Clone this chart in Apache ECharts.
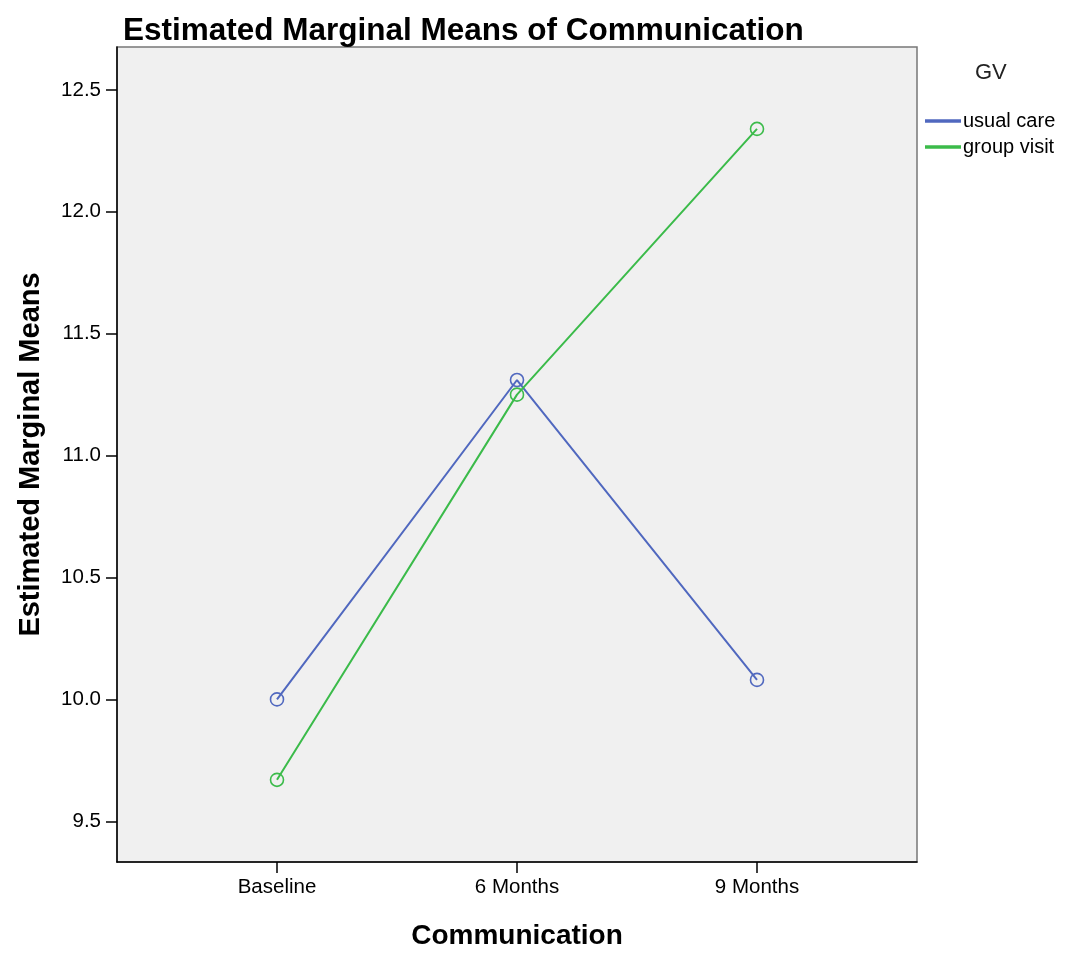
<!DOCTYPE html>
<html>
<head>
<meta charset="utf-8">
<script src="https://cdn.jsdelivr.net/npm/echarts@6/dist/echarts.min.js"></script>
<style>
html,body{margin:0;padding:0;background:#fff;}
#chart{width:1070px;height:955px;}
</style>
</head>
<body>
<div id="chart"></div>
<script>
const categories = ['Baseline', '6 Months', '9 Months'];
const usualCare = [10.00, 11.31, 10.08];
const groupVisit = [9.67, 11.25, 12.34];
const yTicks = [9.5, 10.0, 10.5, 11.0, 11.5, 12.0, 12.5];
const seriesNames = ['usual care', 'group visit'];

const FONT = 'Liberation Sans, Arial, sans-serif';
const toPairs = arr => arr.map((v, i) => [i, v]);
const catIdx = categories.map((c, i) => i);
const BLUE = '#5068bf';
const GREEN = '#3bbb4a';

const chart = echarts.init(document.getElementById('chart'));
chart.setOption({
  backgroundColor: '#ffffff',
  animation: false,
  title: {
    text: 'Estimated Marginal Means of Communication',
    left: 118, top: 10,
    textStyle: { fontFamily: FONT, fontSize: 31.5, fontWeight: 'bold', color: '#000' }
  },
  graphic: [{
    type: 'text', left: 975, top: 62,
    style: { text: 'GV', fontFamily: FONT, fontSize: 22, fill: '#222' }
  }],
  legend: {
    orient: 'vertical', left: 920, top: 106,
    icon: 'rect', itemWidth: 34, itemHeight: 1.6, itemGap: 6,
    textStyle: { fontFamily: FONT, fontSize: 20, color: '#000', padding: [0,0,0,-2] },
    data: seriesNames
  },
  grid: {
    left: 117, top: 47, width: 800, height: 818,
    show: true, backgroundColor: '#f0f0f0', borderColor: '#777', borderWidth: 1.5
  },
  xAxis: {
    type: 'value', min: -2/3, max: 8/3,
    name: 'Communication', nameLocation: 'middle', nameGap: 60,
    nameTextStyle: { fontFamily: FONT, fontSize: 28, fontWeight: 'bold', color: '#000' },
    axisLine: { show: true, onZero: false, lineStyle: { color: '#000', width: 1.5 } },
    axisTick: { show: true, customValues: catIdx, length: 11, lineStyle: { color: '#000', width: 1.5 } },
    axisLabel: { customValues: catIdx, margin: 15, fontFamily: FONT, fontSize: 20.5, color: '#000',
      formatter: v => categories[Math.round(v)] },
    splitLine: { show: false }
  },
  yAxis: {
    type: 'value', min: 9.333, max: 12.676,
    name: 'Estimated Marginal Means', nameLocation: 'middle', nameGap: 72,
    nameTextStyle: { fontFamily: FONT, fontSize: 29, fontWeight: 'bold', color: '#000' },
    axisLine: { show: true, onZero: false, lineStyle: { color: '#000', width: 1.5 } },
    axisTick: { show: true, customValues: yTicks, length: 11, lineStyle: { color: '#000', width: 1.5 } },
    axisLabel: { customValues: yTicks, margin: 16, fontFamily: FONT, fontSize: 20.5, color: '#000',
      formatter: v => v.toFixed(1) },
    splitLine: { show: false }
  },
  series: [
    { name: seriesNames[0], type: 'line', data: toPairs(usualCare),
      symbol: 'circle', symbolSize: 13, color: BLUE,
      lineStyle: { color: BLUE, width: 2 },
      itemStyle: { color: 'rgba(0,0,0,0)', borderColor: BLUE, borderWidth: 1.6 } },
    { name: seriesNames[1], type: 'line', data: toPairs(groupVisit),
      symbol: 'circle', symbolSize: 13, color: GREEN,
      lineStyle: { color: GREEN, width: 2 },
      itemStyle: { color: 'rgba(0,0,0,0)', borderColor: GREEN, borderWidth: 1.6 } }
  ]
});
</script>
</body>
</html>
